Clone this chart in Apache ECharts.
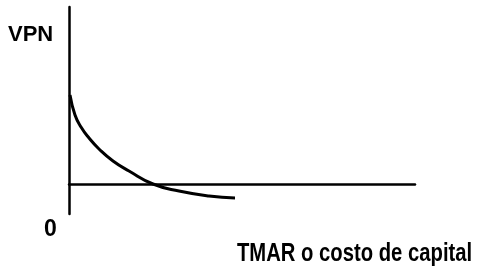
<!DOCTYPE html>
<html>
<head>
<meta charset="utf-8">
<script src="https://cdn.jsdelivr.net/npm/echarts@6/dist/echarts.min.js"></script>
<style>
html,body{margin:0;padding:0;background:#fff;}
#chart{width:487px;height:270px;}
</style>
</head>
<body>
<div id="chart"></div>
<script>
// Curve: TMAR (x, arbitrary units) vs VPN (y, arbitrary units)
const tmar = [1, 6, 12, 20, 30, 44, 60, 84, 110, 140, 166];
const vpn  = [89, 69, 57, 46, 35, 23, 13, 0, -7, -12, -14];
const yLabel = "VPN";
const xLabel = "TMAR o costo de capital";
const originLabel = "0";

const chart = echarts.init(document.getElementById('chart'));
const fontFam = '"Liberation Sans", Arial, sans-serif';
chart.setOption({
  animation: false,
  backgroundColor: '#fff',
  grid: {left: 69, top: 7, right: 72, bottom: 56},
  xAxis: {
    type: 'value', min: 0, max: 346,
    axisLine: {show: true, onZero: true, lineStyle: {color: '#000', width: 2.5}},
    axisTick: {show: false}, axisLabel: {show: false}, splitLine: {show: false}
  },
  yAxis: {
    type: 'value', min: -30, max: 177,
    axisLine: {show: true, onZero: false, lineStyle: {color: '#000', width: 2.5}},
    axisTick: {show: false}, axisLabel: {show: false}, splitLine: {show: false}
  },
  series: [{
    type: 'line',
    data: tmar.map((x, i) => [x, vpn[i]]),
    smooth: 0.5,
    showSymbol: false,
    lineStyle: {color: '#000', width: 3}
  }],
  graphic: [
    {type: 'text', left: 8, top: 24, style: {text: yLabel, font: 'bold 22px ' + fontFam, fill: '#000'}},
    {type: 'text', left: 44, top: 218, style: {text: originLabel, font: 'bold 23px ' + fontFam, fill: '#000'}},
    {type: 'text', x: 237, y: 242, scaleX: 0.81, style: {text: xLabel, font: 'bold 25px ' + fontFam, fill: '#000'}}
  ]
});
</script>
</body>
</html>
